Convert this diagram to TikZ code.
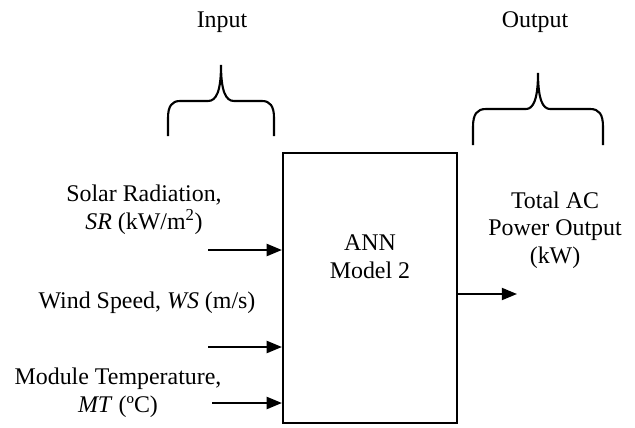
\documentclass[tikz,border=0pt]{standalone}
\usepackage{fontspec}
\setmainfont{Liberation Serif}
\usepackage{tikz}
\usetikzlibrary{arrows.meta,calc,positioning}
\definecolor{linegray}{HTML}{000000}

\begin{document}
\begin{tikzpicture}[
  x=0.025cm,
  y=-0.025cm,
  font=\fontsize{17}{19.6}\selectfont,
  lbl/.style={align=center, inner sep=0pt},
  modelbox/.style={draw=linegray, line width=1.5pt, minimum width=4.35cm,
    minimum height=6.75cm, inner sep=0pt},
  feed/.style={-{Triangle[length=0.38cm,width=0.3cm]}, draw=linegray, line width=1.5pt},
  brace/.style={draw=linegray, line width=1.5pt}
]
\useasboundingbox (0,0) rectangle (635,427);

\node[modelbox] (model) at (370,288) {};
\node[lbl] (modellbl) at (370,257) {ANN\\Model 2};

% headings and braces
\node[lbl] (inhead) at (222,22) {Input};
\node[lbl] (outhead) at (535,22) {Output};
\draw[brace] (168,136) -- (168,118) .. controls (168,106) and (172,101) .. (180,101)
  -- (208,101) .. controls (216,101) and (221,92) .. (221,65)
  .. controls (221,92) and (226,101) .. (234,101) -- (262,101)
  .. controls (270,101) and (274,106) .. (274,118) -- (274,136);
\draw[brace] (473,145) -- (473,127) .. controls (473,114) and (477,109) .. (486,109)
  -- (526,109) .. controls (533,109) and (538,100) .. (538,73)
  .. controls (538,100) and (543,109) .. (550,109) -- (590,109)
  .. controls (599,109) and (603,114) .. (603,127) -- (603,145);

% inputs
\node[lbl] (solar) at (144,210) {Solar Radiation,\\\textit{SR} (kW/m\textsuperscript{2})};
\node[lbl] (wind) at (147,303) {Wind Speed, \textit{WS} (m/s)};
\node[lbl] (temp) at (118,393) {Module Temperature,\\\textit{MT} (ºC)};
\coordinate (solarin) at (208,250);
\coordinate (windin) at (208,347);
\coordinate (tempin) at (212,403);
\draw[feed] (solarin) -- (solarin -| model.west);
\draw[feed] (windin) -- (windin -| model.west);
\draw[feed] (tempin) -- (tempin -| model.west);

% output
\node[lbl] (power) at (555,230) {Total AC\\Power Output\\(kW)};
\coordinate (powerout) at (517,294);
\draw[feed] (model.east |- powerout) -- (powerout);

\end{tikzpicture}
\end{document}
